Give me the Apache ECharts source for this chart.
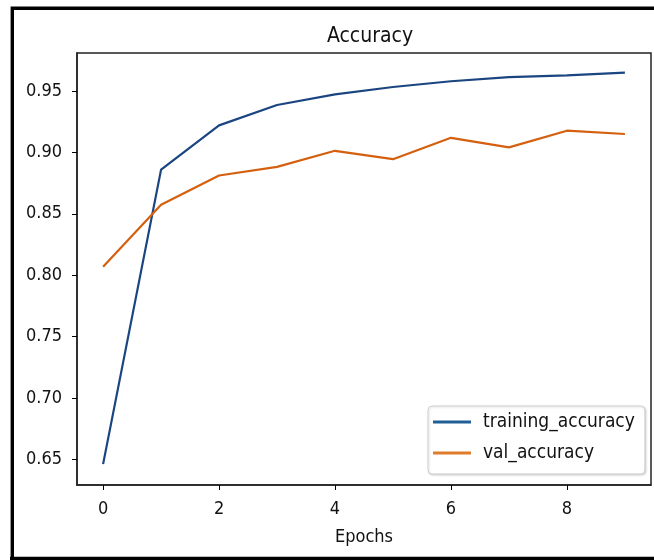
<!DOCTYPE html>
<html>
<head>
<meta charset="utf-8">
<script src="https://cdn.jsdelivr.net/npm/echarts@6/dist/echarts.min.js"></script>
<style>
    html, body { margin: 0; padding: 0; background: #fff; }
    #chart { width: 654px; height: 560px; }
</style>
</head>
<body>
<div id="chart"></div>
<script>
    // data
    var epochs = [0, 1, 2, 3, 4, 5, 6, 7, 8, 9];
    var trainingAccuracy = [0.646, 0.886, 0.922, 0.9386, 0.9473, 0.9533, 0.958, 0.9614, 0.9628, 0.965];
    var valAccuracy = [0.8068, 0.8574, 0.8812, 0.8882, 0.9013, 0.8945, 0.9119, 0.9041, 0.9177, 0.915];
    var xTicks = [0, 2, 4, 6, 8];
    var yTicks = [0.65, 0.70, 0.75, 0.80, 0.85, 0.90, 0.95];

    var font = "'DejaVu Sans Condensed', 'DejaVu Sans', sans-serif";

    function pairs(ys) {
        return epochs.map(function (x, i) { return [x, ys[i]]; });
    }

    var chart = echarts.init(document.getElementById('chart'));
    var option = {
        animation: false,
        backgroundColor: '#fff',
        textStyle: { fontFamily: font },
        title: {
            text: 'Accuracy',
            left: 365,
            textAlign: 'center',
            top: 21,
            textStyle: { fontFamily: font, fontSize: 21, fontWeight: 'normal', color: '#111' }
        },
        grid: {
            left: 77,
            right: 3,
            top: 53,
            bottom: 75,
            show: true,
            borderColor: '#222',
            borderWidth: 1.5,
            backgroundColor: '#fff'
        },
        legend: {
            orient: 'vertical',
            left: 428,
            top: 406,
            padding: [5, 10, 10, 5],
            itemGap: 9,
            itemWidth: 38,
            itemHeight: 3,
            icon: 'rect',
            backgroundColor: '#fff',
            borderColor: '#cfcfcf',
            borderWidth: 1,
            borderRadius: 4,
            shadowColor: 'rgba(0,0,0,0.15)',
            shadowBlur: 2,
            shadowOffsetX: 1,
            shadowOffsetY: 1,
            textStyle: { fontFamily: font, fontSize: 19, color: '#111', lineHeight: 22, padding: [0, 0, 0, 7] },
            data: [
                { name: 'training_accuracy', itemStyle: { color: '#1f5f96' } },
                { name: 'val_accuracy', itemStyle: { color: '#e07b29' } }
            ]
        },
        xAxis: {
            type: 'value',
            min: -0.45,
            max: 9.45,
            name: 'Epochs',
            nameLocation: 'middle',
            nameGap: 43,
            nameTextStyle: { fontFamily: font, fontSize: 18, color: '#111' },
            splitLine: { show: false },
            axisLine: { show: true, onZero: false, lineStyle: { color: '#222', width: 1.5 } },
            axisTick: { show: true, length: 5, lineStyle: { color: '#000' }, customValues: xTicks },
            axisLabel: { fontFamily: font, fontSize: 18, color: '#111', margin: 15, customValues: xTicks }
        },
        yAxis: {
            type: 'value',
            min: 0.629,
            max: 0.981,
            splitLine: { show: false },
            axisLine: { show: true, onZero: false, lineStyle: { color: '#222', width: 1.5 } },
            axisTick: { show: true, length: 5, lineStyle: { color: '#000' }, customValues: yTicks },
            axisLabel: {
                fontFamily: font, fontSize: 18, color: '#111', margin: 15,
                customValues: yTicks,
                formatter: function (v) { return v.toFixed(2); }
            }
        },
        graphic: [{
            type: 'polyline',
            shape: { points: [[12.3, 560], [12.3, 8.3], [654, 8.3]] },
            style: { stroke: '#000', lineWidth: 3.4, fill: null }
        }, {
            type: 'line',
            shape: { x1: 10, y1: 558.5, x2: 654, y2: 558.5 },
            style: { stroke: '#000', lineWidth: 3.4 }
        }],
        series: [{
            name: 'training_accuracy',
            type: 'line',
            data: pairs(trainingAccuracy),
            showSymbol: false,
            color: '#1a4580',
            lineStyle: { width: 2.2, color: '#1a4580' }
        }, {
            name: 'val_accuracy',
            type: 'line',
            data: pairs(valAccuracy),
            showSymbol: false,
            color: '#d4600f',
            lineStyle: { width: 2.2, color: '#d4600f' }
        }]
    };
    chart.setOption(option);
</script>
</body>
</html>
